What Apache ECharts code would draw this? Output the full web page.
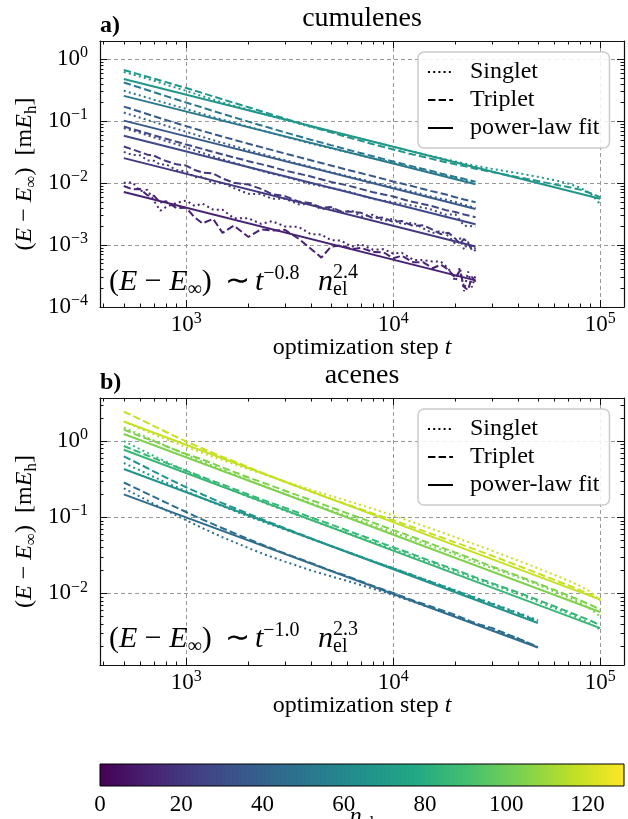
<!DOCTYPE html>
<html><head><meta charset="utf-8">
<script src="https://cdn.jsdelivr.net/npm/echarts@6/dist/echarts.min.js"></script>
<style>html,body{margin:0;padding:0;background:#fff}#c{width:628px;height:819px}</style>
</head><body><div id="c"></div>
<script>
const FONT = '"Liberation Serif", "Times New Roman", serif';

// ---------------- data: cumulenes (panel a) ----------------
const CUM_NEL = [68, 52, 36, 28, 20, 12];
const CUM_T = [500, 600, 700, 800, 1000, 1200, 1500, 2000, 2500, 3000, 4000, 5000, 6000, 8000, 10000, 12000, 15000, 18000, 20000, 22000, 25000];
const CUM_T_LONG = [500, 600, 700, 800, 1000, 1200, 1500, 2000, 2500, 3000, 4000, 5000, 6000, 8000, 10000, 12000, 15000, 18000, 20000, 22000, 25000, 30000, 40000, 50000, 60000, 70000, 80000, 90000, 100000];
const CUM_T_DENSE = [500, 550, 600, 650, 700, 750, 800, 900, 1000, 1100, 1200, 1350, 1500, 1700, 2000, 2300, 2600, 3000, 3500, 4000, 4500, 5000, 5600, 6300, 7000, 8000, 9000, 10000, 11000, 12500, 14000, 15500, 17000, 18500, 20000, 21000, 22000, 23000, 24000, 25000];

const C1_S = [0.624,0.523,0.449,0.388,0.309,0.253,0.200,0.153,0.124,0.1055,0.0805,0.068,0.0589,0.0468,0.0388,0.0333,0.0278,0.0241,0.0223,0.0208,0.0190,0.0170,0.01452,0.01264,0.01117,0.00985,0.00846,0.00673,0.00459];
const C1_T = [0.672,0.564,0.485,0.427,0.343,0.285,0.225,0.168,0.133,0.110,0.0818,0.0659,0.0553,0.0425,0.0349,0.0299,0.0251,0.0218,0.0201,0.0188,0.0171,0.0151,0.01246,0.01083,0.00954,0.00865,0.00785,0.00685,0.00594];
const C1_FIT = [[500, 0.48], [100000, 0.0056]];

const C2_S = [0.310,0.259,0.222,0.195,0.1574,0.1312,0.1057,0.0815,0.0663,0.0562,0.0436,0.0366,0.0317,0.0251,0.0211,0.01827,0.01513,0.01312,0.01201,0.01118,0.01014];
const C2_T = [0.420,0.347,0.293,0.254,0.200,0.1655,0.1311,0.0983,0.0789,0.0659,0.0503,0.0411,0.0349,0.0271,0.0224,0.01916,0.01601,0.01363,0.01259,0.01172,0.01053];
const C2_FIT = [[500, 0.256], [25000, 0.00957]];

const C3_S = [0.1377,0.1138,0.0969,0.0845,0.0673,0.0557,0.0446,0.0340,0.0277,0.0235,0.01828,0.01503,0.01303,0.01033,0.00865,0.00749,0.00614,0.00538,0.00497,0.00449,0.00396];
const C3_T = [0.172,0.1418,0.120,0.1044,0.0832,0.0694,0.0563,0.0432,0.0354,0.0301,0.0234,0.0193,0.01645,0.01291,0.01063,0.00919,0.00755,0.00654,0.00593,0.00543,0.00491];
const C3_FIT = [[500, 0.102], [25000, 0.00381]];

const C4_S = [0.0771,0.0647,0.0546,0.0477,0.0379,0.0306,0.0242,0.0181,0.01457,0.01275,0.00969,0.00838,0.00741,0.00554,0.00492,0.00442,0.00383,0.00309,0.00314,0.00205,0.0020];
const C4_T = [0.0818,0.0687,0.0590,0.0520,0.0421,0.0356,0.0290,0.0226,0.0189,0.01597,0.01281,0.01048,0.0092,0.00712,0.0061,0.00511,0.00436,0.00366,0.00341,0.00311,0.00282];
const C4_FIT = [[500, 0.058], [25000, 0.00217]];

const C5_S = [0.0319,0.0285,0.0282,0.0233,0.0229,0.0198,0.0201,0.0162,0.01555,0.0124,0.01273,0.00988,0.01004,0.00834,0.00671,0.00667,0.00557,0.00562,0.00454,0.00462,0.0038,0.00402,0.00332,0.00361,0.0029,0.00308,0.00245,0.00266,0.00217,0.00229,0.00185,0.00156,0.0017,0.0014,0.00103,0.00131,0.00084,0.00112,0.00093,0.0008];
const C5_T = [0.0390,0.0350,0.0317,0.0288,0.0277,0.0248,0.0227,0.0201,0.0192,0.0163,0.0148,0.0143,0.01185,0.01015,0.00947,0.00807,0.00665,0.00618,0.00503,0.00475,0.0040,0.0041,0.00349,0.00346,0.00331,0.00271,0.00279,0.00235,0.00245,0.00203,0.00208,0.00177,0.0015,0.00158,0.00126,0.00104,0.00126,0.00107,0.00083,0.0009];
const C5_FIT = [[500, 0.0253], [25000, 0.000946]];

const C6_S = [0.0101,0.0103,0.00742,0.00779,0.00516,0.00358,0.00412,0.00483,0.00523,0.00428,0.00466,0.00374,0.00372,0.00271,0.0027,0.0022,0.00243,0.002,0.00196,0.0015,0.00148,0.0012,0.00118,0.000943,0.00102,0.000841,0.000857,0.000728,0.00075,0.000578,0.000569,0.000543,0.000539,0.000416,0.00026,0.000437,0.00018,0.000376,0.000209,0.000323];
const C6_T = [0.009,0.00798,0.00803,0.00635,0.00624,0.00486,0.00509,0.00395,0.00402,0.00279,0.00224,0.00265,0.00157,0.00206,0.00135,0.0018,0.00171,0.00176,0.00126,0.000875,0.000627,0.000936,0.000993,0.000857,0.000903,0.000771,0.000762,0.000611,0.00067,0.00053,0.000526,0.000422,0.000484,0.000399,0.000293,0.00039,0.00021,0.000188,0.000307,0.000256];
const C6_FIT = [[500, 0.0072], [25000, 0.000269]];

// ---------------- data: acenes (panel b) ----------------
const ACE_NEL = [118, 104, 86, 66, 46];
const ACE_T = [500, 600, 700, 800, 1000, 1200, 1500, 2000, 2500, 3000, 4000, 5000, 6000, 8000, 10000, 12000, 15000, 20000, 25000, 30000, 40000, 50000];
const ACE_T_LONG = [500, 600, 700, 800, 1000, 1200, 1500, 2000, 2500, 3000, 4000, 5000, 6000, 8000, 10000, 12000, 15000, 20000, 25000, 30000, 40000, 50000, 60000, 70000, 80000, 90000, 100000];

const A1_S = [1.81,1.461,1.225,1.058,0.836,0.696,0.561,0.428,0.349,0.296,0.2304,0.191,0.1649,0.1287,0.1054,0.0892,0.0723,0.0545,0.0438,0.0365,0.0271,0.02144,0.01753,0.01477,0.01247,0.01049,0.00798];
const A1_T = [2.44,1.928,1.573,1.317,0.989,0.800,0.621,0.455,0.356,0.293,0.217,0.175,0.1472,0.1122,0.0913,0.0768,0.0618,0.0467,0.0376,0.0313,0.0232,0.01833,0.01509,0.0128,0.01107,0.00954,0.00832];
const A1_FIT = [[500, 1.81], [100000, 0.0083]];

const A2_S = [1.5,1.218,1.015,0.864,0.665,0.538,0.421,0.309,0.244,0.203,0.1533,0.1235,0.1038,0.0784,0.0631,0.0531,0.0427,0.0323,0.0257,0.02163,0.01632,0.01302,0.01064,0.00894,0.00752,0.0062,0.005];
const A2_T = [1.414,1.156,0.998,0.856,0.678,0.573,0.450,0.333,0.268,0.2233,0.1685,0.1356,0.1129,0.0852,0.0679,0.0571,0.0455,0.0344,0.0274,0.02262,0.01707,0.0135,0.01113,0.00944,0.00811,0.00705,0.00617];
const A2_FIT = [[500, 1.24], [100000, 0.0057]];

const A3_S = [1.0,0.782,0.636,0.536,0.405,0.328,0.254,0.186,0.147,0.1222,0.0923,0.0744,0.0626,0.0473,0.0381,0.032,0.0258,0.01949,0.01552,0.01306,0.00987,0.00779,0.00642,0.00545,0.00466,0.00398,0.00336];
const A3_T = [0.862,0.705,0.597,0.517,0.409,0.337,0.269,0.1993,0.159,0.1336,0.0999,0.0805,0.067,0.0505,0.0403,0.0339,0.027,0.02042,0.01626,0.01368,0.01033,0.00823,0.00678,0.00576,0.00498,0.00438,0.00383];
const A3_FIT = [[500, 0.77], [100000, 0.0035]];

const A4_S = [0.516,0.412,0.337,0.286,0.22,0.1776,0.139,0.1028,0.0821,0.069,0.0521,0.042,0.0354,0.0266,0.02149,0.01806,0.01454,0.01098,0.00884,0.00743,0.00561,0.00444];
const A4_T = [0.632,0.494,0.398,0.332,0.2477,0.1989,0.1531,0.1113,0.0871,0.0718,0.0531,0.042,0.035,0.0264,0.02128,0.01789,0.0144,0.01088,0.00867,0.00729,0.00546,0.00432];
const A4_FIT = [[500, 0.43], [50000, 0.0041]];

const A5_S = [0.24,0.1864,0.1495,0.1232,0.0914,0.0719,0.0547,0.0394,0.0311,0.0262,0.0201,0.0168,0.01463,0.01155,0.00951,0.00808,0.00657,0.00501,0.00407,0.0033,0.00258,0.00195];
const A5_T = [0.286,0.2263,0.1851,0.1555,0.1172,0.0933,0.0718,0.0518,0.0406,0.0334,0.0252,0.01993,0.01691,0.01252,0.01019,0.0084,0.00683,0.00521,0.00403,0.00352,0.00256,0.00199];
const A5_FIT = [[500, 0.20], [50000, 0.00195]];

// ---------------- ticks / ranges ----------------
const X_RANGE = [383.7, 130300];
const X_MAJOR = [1000, 10000, 100000];
const X_MINOR = [400,500,600,700,800,900,2000,3000,4000,5000,6000,7000,8000,9000,20000,30000,40000,50000,60000,70000,80000,90000];
const YA_RANGE = [0.99999e-4, 1.97];
const YA_MAJOR = [1e-4, 1e-3, 1e-2, 1e-1, 1];
const YA_MINOR = [2e-4,3e-4,4e-4,5e-4,6e-4,7e-4,8e-4,9e-4,2e-3,3e-3,4e-3,5e-3,6e-3,7e-3,8e-3,9e-3,0.02,0.03,0.04,0.05,0.06,0.07,0.08,0.09,0.2,0.3,0.4,0.5,0.6,0.7,0.8,0.9];
const YB_RANGE = [0.00115, 3.68];
const YB_MAJOR = [1e-2, 1e-1, 1];
const YB_MINOR = [2e-3,3e-3,4e-3,5e-3,6e-3,7e-3,8e-3,9e-3,0.02,0.03,0.04,0.05,0.06,0.07,0.08,0.09,0.2,0.3,0.4,0.5,0.6,0.7,0.8,0.9,2,3];
const CB_RANGE = [0, 129];
const CB_TICKS = [0, 20, 40, 60, 80, 100, 120];

// ---------------- styling helpers ----------------
const VIRIDIS = ['#440154','#482475','#414487','#355f8d','#2a788e','#21918c','#22a884','#44bf70','#7ad151','#bddf26','#fde725'];
function hex(h){ return [parseInt(h.slice(1,3),16), parseInt(h.slice(3,5),16), parseInt(h.slice(5,7),16)]; }
function viridis(f){
  f = Math.max(0, Math.min(1, f));
  const p = f * (VIRIDIS.length - 1);
  const i = Math.min(Math.floor(p), VIRIDIS.length - 2);
  const u = p - i, a = hex(VIRIDIS[i]), b = hex(VIRIDIS[i + 1]);
  return 'rgb(' + [0,1,2].map(k => Math.round(a[k] + (b[k] - a[k]) * u)).join(',') + ')';
}
const DOT = [2, 3.2], DASH = [7.4, 3.2];
const GRIDS = [
  {left: 100, top: 41, width: 524, height: 266, outerBoundsMode: 'none', containLabel: false},
  {left: 100, top: 398, width: 524, height: 267, outerBoundsMode: 'none', containLabel: false},
  {left: 100, top: 764, width: 524, height: 22, outerBoundsMode: 'none', containLabel: false}
];
const TICK_RICH = {
  b: {fontFamily: FONT, fontSize: 23, lineHeight: 28, color: '#000'},
  s: {fontFamily: FONT, fontSize: 16, lineHeight: 16, verticalAlign: 'top', color: '#000'}
};
function pow10Label(v){
  const e = Math.round(Math.log10(v));
  return '{b|10}{s|' + String(e).replace('-', '\u2212') + '}';
}
const NAME_STYLE = {
  fontFamily: FONT, fontSize: 24, lineHeight: 30, color: '#000',
  rich: {
    i: {fontFamily: FONT, fontSize: 24, lineHeight: 30, fontStyle: 'italic', color: '#000'},
    sub: {fontFamily: FONT, fontSize: 17, lineHeight: 17, verticalAlign: 'bottom', color: '#000'}
  }
};
const AXLINE = {show: true, onZero: false, lineStyle: {color: '#111', width: 1.2}};
const GRIDLINE = {show: true, lineStyle: {color: '#999', width: 1, type: [4, 3]}};

function logAxes(dim, grid, range, major, minor, name){
  const pos = dim === 'x' ? ['bottom', 'top'] : ['left', 'right'];
  const base = {type: 'log', logBase: 10, gridIndex: grid, min: range[0], max: range[1], minorTick: {show: false}, minorSplitLine: {show: false}, silent: true};
  const axes = [];
  pos.forEach((p, k) => {
    axes.push(Object.assign({}, base, {
      position: p,
      axisLine: AXLINE,
      axisTick: {show: true, inside: true, length: 7, customValues: major, lineStyle: {color: '#111', width: 1}},
      axisLabel: k === 0 ? {show: true, customValues: major, formatter: pow10Label, rich: TICK_RICH, margin: dim === 'x' ? 4 : 12} : {show: false},
      splitLine: k === 0 ? GRIDLINE : {show: false},
      name: k === 0 ? name : '',
      nameLocation: 'middle',
      nameGap: dim === 'x' ? 26 : 60,
      nameRotate: dim === 'x' ? 0 : 90,
      nameMoveOverlap: false,
      nameTextStyle: NAME_STYLE
    }));
    axes.push(Object.assign({}, base, {
      position: p,
      axisLine: {show: false},
      axisTick: {show: true, inside: true, length: 3.5, customValues: minor, lineStyle: {color: '#111', width: 1}},
      axisLabel: {show: false},
      splitLine: {show: false}
    }));
  });
  return axes;
}

const XNAME = 'optimization step {i|t}';
const YNAME = '({i|E} \u2212 {i|E}{sub|\u221e})  [m{i|E}{sub|h}]';
const xAxes = [].concat(
  logAxes('x', 0, X_RANGE, X_MAJOR, X_MINOR, XNAME),
  logAxes('x', 1, X_RANGE, X_MAJOR, X_MINOR, XNAME),
  [{type: 'value', gridIndex: 2, min: CB_RANGE[0], max: CB_RANGE[1], axisLine: {show: false}, axisTick: {show: false}, splitLine: {show: false},
    axisLabel: {customValues: CB_TICKS, fontFamily: FONT, fontSize: 23, lineHeight: 23, color: '#000', margin: 7},
    name: '{i|n}{sub|el}', nameLocation: 'middle', nameGap: 16, nameMoveOverlap: false, nameTextStyle: NAME_STYLE}]
);
const yAxes = [].concat(
  logAxes('y', 0, YA_RANGE, YA_MAJOR, YA_MINOR, YNAME),
  logAxes('y', 1, YB_RANGE, YB_MAJOR, YB_MINOR, YNAME),
  [{type: 'value', gridIndex: 2, min: 0, max: 1, show: false}]
);

function pairs(ts, vs){ return ts.map((t, i) => [t, vs[i]]); }
function line(panel, data, color, dash, name){
  return {type: 'line', name: name, xAxisIndex: panel * 4, yAxisIndex: panel * 4, data: data, symbol: 'none', showSymbol: false,
    silent: true, clip: true, lineStyle: {color: color, width: 2, type: dash}, itemStyle: {color: color}, emphasis: {disabled: true}};
}

const series = [];
const CUM_SETS = [[CUM_T_LONG, C1_S, C1_T, C1_FIT], [CUM_T, C2_S, C2_T, C2_FIT], [CUM_T, C3_S, C3_T, C3_FIT],
                  [CUM_T, C4_S, C4_T, C4_FIT], [CUM_T_DENSE, C5_S, C5_T, C5_FIT], [CUM_T_DENSE, C6_S, C6_T, C6_FIT]];
CUM_SETS.forEach((s, k) => {
  const col = viridis(CUM_NEL[k] / CB_RANGE[1]);
  series.push(line(0, pairs(s[0], s[1]), col, DOT));
  series.push(line(0, pairs(s[0], s[2]), col, DASH));
  series.push(line(0, s[3], col, 'solid'));
});
const ACE_SETS = [[ACE_T_LONG, A1_S, A1_T, A1_FIT], [ACE_T_LONG, A2_S, A2_T, A2_FIT], [ACE_T_LONG, A3_S, A3_T, A3_FIT],
                  [ACE_T, A4_S, A4_T, A4_FIT], [ACE_T, A5_S, A5_T, A5_FIT]];
ACE_SETS.forEach((s, k) => {
  const col = viridis(ACE_NEL[k] / CB_RANGE[1]);
  series.push(line(1, pairs(s[0], s[1]), col, DOT));
  series.push(line(1, pairs(s[0], s[2]), col, DASH));
  series.push(line(1, s[3], col, 'solid'));
});
// legend entries (black)
series.push(line(0, [], '#000', DOT, 'Singlet'));
series.push(line(0, [], '#000', DASH, 'Triplet'));
series.push(line(0, [], '#000', 'solid', 'power-law fit'));

// colorbar
const CB_STOPS = VIRIDIS.map((c, i) => ({offset: i / (VIRIDIS.length - 1), color: c}));
series.push({
  type: 'custom', xAxisIndex: 8, yAxisIndex: 8, silent: true, clip: false,
  data: [[CB_RANGE[0], 0, CB_RANGE[1], 1]],
  encode: {x: [0, 2], y: [1, 3]},
  renderItem: function(params, api){
    const p0 = api.coord([api.value(0), api.value(1)]);
    const p1 = api.coord([api.value(2), api.value(3)]);
    return {type: 'rect', shape: {x: p0[0], y: p1[1], width: p1[0] - p0[0], height: p0[1] - p1[1]},
      style: {fill: new echarts.graphic.LinearGradient(0, 0, 1, 0, CB_STOPS), stroke: '#000', lineWidth: 1}};
  }
});

function legendAt(top){
  return {left: 418, top: top, orient: 'vertical', data: ['Singlet', 'Triplet', 'power-law fit'], itemWidth: 25, itemHeight: 14, itemGap: 4,
    selectedMode: false, backgroundColor: 'rgba(255,255,255,0.85)', borderColor: '#cccccc', borderWidth: 1.5, borderRadius: 6,
    itemStyle: {opacity: 0},
    padding: [8, 10, 8, 9], textStyle: {fontFamily: FONT, fontSize: 24, lineHeight: 24, color: '#000', padding: [0, 0, 0, 12]}};
}

const ANN_RICH = {
  i: {fontFamily: FONT, fontSize: 30, lineHeight: 36, fontStyle: 'italic', fill: '#000'},
  sub: {fontFamily: FONT, fontSize: 20, lineHeight: 20, verticalAlign: 'bottom', fill: '#000'},
  sup: {fontFamily: FONT, fontSize: 20, lineHeight: 20, verticalAlign: 'top', fill: '#000'}
};
function txt(x, y, text, size, align, extra){
  return {type: 'text', x: x, y: y, silent: true, z: 100,
    style: Object.assign({text: text, fontFamily: FONT, fontSize: size, lineHeight: Math.round(size * 1.2), fill: '#000',
      align: align, textAlign: align, verticalAlign: 'middle', textVerticalAlign: 'middle', rich: ANN_RICH}, extra || {})};
}
function annotation(dy, expT, expN){
  return [
    txt(109, 282 + dy, '({i|E} \u2212 {i|E}{sub|\u221e})', 30, 'left'),
    txt(237, 282 + dy, '\u223c', 30, 'center'),
    txt(255, 282 + dy, '{i|t}{sup|' + expT + '}', 30, 'left'),
    txt(318, 282 + dy, '{i|n}{sub|el}', 30, 'left'),
    txt(333, 273 + dy, expN, 20, 'left')
  ];
}
const DY = GRIDS[1].top - GRIDS[0].top;
const graphic = [
  txt(362, 19, 'cumulenes', 28, 'center'),
  txt(362, 19 + DY, 'acenes', 28, 'center'),
  txt(100, 26, 'a)', 24, 'left', {fontWeight: 'bold'}),
  txt(100, 26 + DY, 'b)', 24, 'left', {fontWeight: 'bold'})
].concat(annotation(0, '\u22120.8', '2.4'), annotation(DY, '\u22121.0', '2.3'));

const chart = echarts.init(document.getElementById('c'), null, {renderer: 'canvas'});
chart.setOption({
  animation: false,
  backgroundColor: '#fff',
  grid: GRIDS,
  xAxis: xAxes,
  yAxis: yAxes,
  legend: [legendAt(52), legendAt(52 + DY)],
  series: series,
  graphic: graphic
});
</script></body></html>
